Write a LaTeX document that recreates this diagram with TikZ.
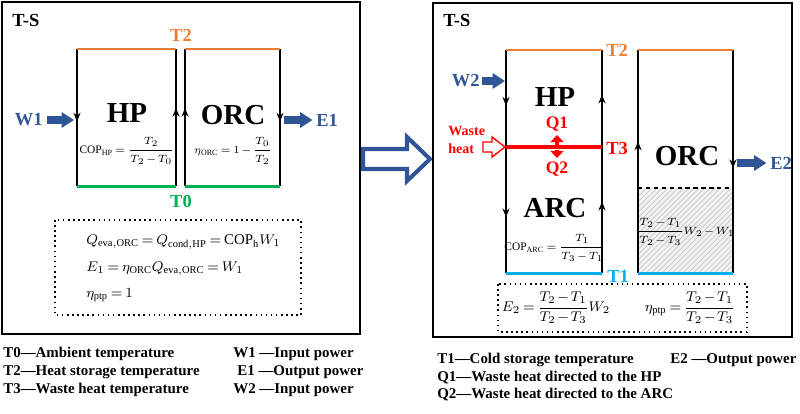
\documentclass[tikz,border=0pt]{standalone}
\usepackage{amsmath}
\usepackage{fontspec}
\setmainfont{Liberation Serif}
\usetikzlibrary{arrows.meta,decorations.markings,patterns,positioning}
\definecolor{pwblue}{RGB}{47,85,151}
\definecolor{hotor}{RGB}{237,125,49}
\definecolor{ambgreen}{RGB}{0,176,80}
\definecolor{coldcyan}{RGB}{0,176,240}
\newcommand{\tightmath}{\thickmuskip=3.5mu\medmuskip=2mu}
\tikzset{>=Stealth,
  lbl/.style={font=\fontsize{10.5}{12}\selectfont\bfseries, inner sep=0pt},
  cyc/.style={font=\fontsize{16.5}{18}\selectfont\bfseries, inner sep=0pt},
  eqn/.style={font=\fontsize{6.5}{8}\selectfont\tightmath, inner sep=0pt},
  boxeqn/.style={font=\fontsize{8.5}{10}\selectfont\tightmath, inner sep=0pt, anchor=west},
  legend/.style={font=\fontsize{8.5}{10}\selectfont\bfseries, inner sep=0pt, anchor=west},
  frame/.style={line width=1.3pt},
  wall/.style={line width=1.1pt},
  isoline/.style={line width=1.7pt},
  midarrow/.style={postaction={decorate,decoration={markings,
      mark=at position #1 with {\arrow{Stealth[length=5pt,width=4pt]}}}}},
  powarrow/.style={pwblue, line width=4pt, -{Triangle[length=7pt,width=8.5pt]}},
  splitarrow/.style={red, line width=2.5pt, -{Triangle[length=4pt,width=7.5pt]}},
}

\begin{document}
\begin{tikzpicture}[x=0.02cm, y=-0.02cm]
    \useasboundingbox (0,0) rectangle (800,413);
    % ---------- left panel: HP + ORC
    \draw[frame] (2,2) rectangle (360,334);
    \node[lbl, anchor=west] (tsL) at (12,20) {T-S};
    \coordinate (hpTL) at (77,49);  \coordinate (hpTR) at (176,49);
    \coordinate (hpBL) at (77,186); \coordinate (hpBR) at (176,186);
    \coordinate (orTL) at (185,49);  \coordinate (orTR) at (280,49);
    \coordinate (orBL) at (185,186); \coordinate (orBR) at (280,186);
    \draw[wall, midarrow=0.53] (hpTL) -- (hpBL);
    \draw[wall, midarrow=0.57] (hpBR) -- (hpTR);
    \draw[wall, midarrow=0.57] (orBL) -- (orTL);
    \draw[wall, midarrow=0.53] (orTR) -- (orBR);
    \draw[isoline, hotor] (hpTL) -- (hpTR) (orTL) -- (orTR);
    \draw[isoline, ambgreen] (hpBL) -- (hpBR) (orBL) -- (orBR);
    \node[lbl, hotor] (t2L) at (181,35) {T2};
    \node[lbl, ambgreen] (t0L) at (181,201) {T0};
    \node[cyc] (hpL) at (127,113) {HP};
    \node[cyc] (orcL) at (233,115) {ORC};
    \node[eqn] (copL) at (127,151) {$\mathrm{COP_{HP}}=\dfrac{T_2}{T_2-T_0}$};
    \node[eqn] (etaL) at (233,151) {$\eta_{\mathrm{ORC}}=1-\dfrac{T_0}{T_2}$};
    \node[lbl, pwblue, anchor=east] (w1) at (43,120) {W1};
    \coordinate (w1tip) at (74,120);
    \draw[powarrow] ([xshift=2pt]w1.east) -- (w1tip);
    \coordinate (e1tail) at (284,120);
    \node[lbl, pwblue, anchor=west] (e1) at (316,120) {E1};
    \draw[powarrow] (e1tail) -- ([xshift=-2pt]e1.west);
    % balance equations
    \draw[dotted, line width=0.9pt] (55,220) rectangle (301,315);
    \node[boxeqn] (eqa) at (86,242) {$Q_{\mathrm{eva,ORC}}=Q_{\mathrm{cond,HP}}=\mathrm{COP_h}W_1$};
    \node[boxeqn] (eqb) at (86,269) {$E_1=\eta_{\mathrm{ORC}}Q_{\mathrm{eva,ORC}}=W_1$};
    \node[boxeqn] (eqc) at (86,295) {$\eta_{\mathrm{ptp}}=1$};
    % legend
    \node[legend] (lgt0) at (3,354) {T0—Ambient temperature};
    \node[legend] (lgt2) at (3,372) {T2—Heat storage temperature};
    \node[legend] (lgt3) at (3,390) {T3—Waste heat temperature};
    \node[legend] (lgw1) at (233,354) {W1 —Input power};
    \node[legend] (lge1) at (237,372) {E1 —Output power};
    \node[legend] (lgw2) at (233,390) {W2 —Input power};
    % ---------- transition arrow
    \draw[pwblue, line width=2.3pt, line join=miter, fill=white]
      (363,149) -- (407,149) -- (407,137) -- (430,159) -- (407,181) -- (407,169) -- (363,169) -- cycle;
    % ---------- right panel: HP + ARC + ORC
    \draw[frame] (433,3) rectangle (792,337);
    \node[lbl, anchor=west] (tsR) at (443,20) {T-S};
    \coordinate (apTL) at (506,50);  \coordinate (apTR) at (602,50);
    \coordinate (apBL) at (506,273); \coordinate (apBR) at (602,273);
    \coordinate (o2TL) at (638,50);  \coordinate (o2TR) at (733,50);
    \coordinate (o2BL) at (638,273); \coordinate (o2BR) at (733,273);
    \coordinate (o2DL) at (638,188); \coordinate (o2DR) at (733,188);
    \coordinate (t3L) at (506,147);  \coordinate (t3R) at (602,147);
    \fill[gray!10] (o2DL) rectangle (o2BR);
    \fill[pattern=north east lines, pattern color=gray!45] (o2DL) rectangle (o2BR);
    \draw[dashed, dash pattern=on 2.5pt off 2pt, line width=1pt] (o2DL) -- (o2DR);
    \draw[wall, midarrow=0.25, midarrow=0.75] (apTL) -- (apBL);
    \draw[wall, midarrow=0.32, midarrow=0.80] (apBR) -- (apTR);
    \draw[wall, midarrow=0.59] (o2BL) -- (o2TL);
    \draw[wall, midarrow=0.53] (o2TR) -- (o2BR);
    \draw[isoline, hotor] (apTL) -- (apTR) (o2TL) -- (o2TR);
    \draw[isoline, coldcyan] (apBL) -- (apBR) (o2BL) -- (o2BR);
    \draw[red, line width=1.8pt] (t3L) -- (t3R);
    \node[lbl, hotor, anchor=west] (t2R) at (606,50) {T2};
    \node[lbl, red, anchor=west] (t3) at (606,148) {T3};
    \node[lbl, coldcyan, anchor=west] (t1) at (607,276) {T1};
    \node[cyc] (hpR) at (555,97) {HP};
    \node[cyc] (arcR) at (555,208) {ARC};
    \node[cyc] (orcR) at (687,156) {ORC};
    \node[eqn] (copR) at (555,248) {$\mathrm{COP_{ARC}}=\dfrac{T_1}{T_3-T_1}$};
    \node[eqn, font=\fontsize{6.3}{8}\selectfont\tightmath] (netR) at (686,232) {$\dfrac{T_2-T_1}{T_2-T_3}W_2-W_1$};
    % waste heat split
    \node[lbl, red, font=\fontsize{8}{10}\selectfont\bfseries, align=left, anchor=west] (waste) at (448,140) {Waste\\heat};
    \draw[red, line width=0.8pt, line join=miter, fill=white]
      (483,142) -- (492,142) -- (492,137) -- (505,147) -- (492,157) -- (492,152) -- (483,152) -- cycle;
    \node[lbl, red, font=\fontsize{10}{12}\selectfont\bfseries] (q1) at (557,124) {Q1};
    \node[lbl, red, font=\fontsize{10}{12}\selectfont\bfseries] (q2) at (557,169) {Q2};
    \coordinate (splitA) at (557,145);
    \coordinate (splitB) at (557,150);
    \draw[splitarrow] (splitA) -- ([yshift=-2pt]q1.south);
    \draw[splitarrow] (splitB) -- ([yshift=2pt]q2.north);
    \node[lbl, pwblue, anchor=east] (w2) at (480,81) {W2};
    \coordinate (w2tip) at (505,81);
    \draw[powarrow] ([xshift=1pt]w2.east) -- (w2tip);
    \coordinate (e2tail) at (737,163);
    \node[lbl, pwblue, anchor=west] (e2) at (770,163) {E2};
    \draw[powarrow] (e2tail) -- ([xshift=-2pt]e2.west);
    % performance equations
    \draw[dotted, line width=0.9pt] (498,284) rectangle (747,332);
    \node[eqn, font=\fontsize{8}{10}\selectfont\tightmath] (eqe2) at (556,308) {$E_2=\dfrac{T_2-T_1}{T_2-T_3}W_2$};
    \node[eqn, font=\fontsize{8}{10}\selectfont\tightmath] (eqptp) at (690,308) {$\eta_{\mathrm{ptp}}=\dfrac{T_2-T_1}{T_2-T_3}$};
    % legend
    \node[legend] (lgt1) at (437,360) {T1—Cold storage temperature};
    \node[legend] (lgq1) at (437,378) {Q1—Waste heat directed to the HP};
    \node[legend] (lgq2) at (437,395) {Q2—Waste heat directed to the ARC};
    \node[legend] (lge2) at (670,360) {E2 —Output power};
\end{tikzpicture}
\end{document}
